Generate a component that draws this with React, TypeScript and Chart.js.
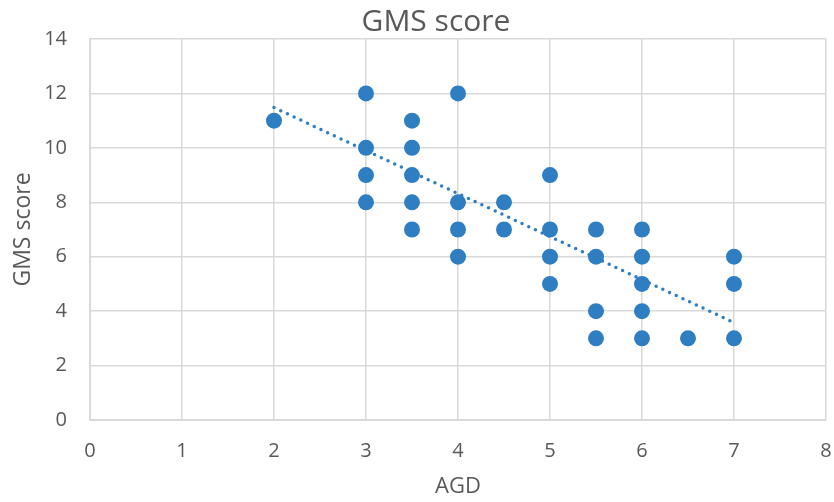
import React, { useEffect, useRef } from "react";
import { Chart, registerables } from "chart.js";

Chart.register(...registerables);

const chartTitle = "GMS score";
const xAxisTitle = "AGD";
const yAxisTitle = "GMS score";

const agdValues = [
  2,
  3, 3, 3, 3,
  3.5, 3.5, 3.5, 3.5, 3.5,
  4, 4, 4, 4,
  4.5, 4.5,
  5, 5, 5, 5,
  5.5, 5.5, 5.5, 5.5,
  6, 6, 6, 6, 6,
  6.5,
  7, 7, 7,
];
const gmsValues = [
  11,
  12, 10, 9, 8,
  11, 10, 9, 8, 7,
  12, 8, 7, 6,
  8, 7,
  9, 7, 6, 5,
  7, 6, 4, 3,
  7, 6, 5, 4, 3,
  3,
  6, 5, 3,
];

const trendX = [2, 7];
const trendY = [11.48, 3.58];

const xMin = 0;
const xMax = 8;
const yMin = 0;
const yMax = 14;

const BLUE = "#2E7EC1";
const TEXT = "#595959";
const GRID = "#D9D9D9";
const FONT = "'Open Sans', 'DejaVu Sans', sans-serif";

export default function App() {
  const ref = useRef<HTMLCanvasElement | null>(null);

  useEffect(() => {
    if (!ref.current) return;
    const titlePlugin = {
      id: "customTitle",
      afterDraw(chart: any) {
        const ctx = chart.ctx;
        ctx.save();
        ctx.font = `30px ${FONT}`;
        ctx.fillStyle = TEXT;
        ctx.textAlign = "center";
        ctx.textBaseline = "middle";
        ctx.fillText(chartTitle, 436, 22);
        ctx.restore();
      },
    };
    const chart = new Chart(ref.current, {
      type: "scatter",
      data: {
        datasets: [
          {
            label: "GMS score",
            data: agdValues.map((x, i) => ({ x, y: gmsValues[i] })),
            backgroundColor: BLUE,
            borderColor: BLUE,
            pointRadius: 8,
            pointHoverRadius: 8,
            borderWidth: 0,
            order: 2,
          },
          {
            label: "Trend",
            type: "line",
            data: trendX.map((x, i) => ({ x, y: trendY[i] })),
            borderColor: BLUE,
            borderWidth: 3.5,
            borderDash: [0, 7.4],
            borderCapStyle: "round",
            pointRadius: 0,
            fill: false,
            order: 1,
          } as any,
        ],
      },
      options: {
        animation: false,
        responsive: false,
        maintainAspectRatio: false,
        layout: { padding: { top: 39, right: 8, left: 0, bottom: 0 } },
        plugins: {
          legend: { display: false },
          tooltip: { enabled: false },
          title: { display: false },
        },
        scales: {
          x: {
            type: "linear",
            min: xMin,
            max: xMax,
            afterFit(scale: any) {
              scale.height = 82;
              scale.paddingRight = 0;
              scale.paddingLeft = 0;
            },
            ticks: {
              stepSize: 1,
              color: TEXT,
              font: { family: FONT, size: 20 },
              padding: 19,
            },
            grid: { color: GRID, lineWidth: 1.5, drawTicks: false },
            border: { color: GRID, width: 2 },
            title: {
              display: true,
              text: xAxisTitle,
              color: TEXT,
              font: { family: FONT, size: 22 },
              padding: { top: 4, bottom: 2 },
            },
          },
          y: {
            type: "linear",
            min: yMin,
            max: yMax,
            afterFit(scale: any) {
              scale.width = 90;
              scale.paddingTop = 0;
              scale.paddingBottom = 0;
            },
            ticks: {
              stepSize: 2,
              color: TEXT,
              font: { family: FONT, size: 20 },
              padding: 23,
            },
            grid: { color: GRID, lineWidth: 1.5, drawTicks: false },
            border: { color: GRID, width: 2 },
            title: {
              display: true,
              text: yAxisTitle,
              color: TEXT,
              font: { family: FONT, size: 23 },
              padding: { top: 10, bottom: 4 },
            },
          },
        },
      },
      plugins: [titlePlugin],
    });
    return () => chart.destroy();
  }, []);

  return (
    <div style={{ position: "absolute", left: 0, top: 0, width: 834, height: 502, background: "#fff" }}>
      <canvas ref={ref} width={834} height={502} style={{ display: "block" }} />
    </div>
  );
}
